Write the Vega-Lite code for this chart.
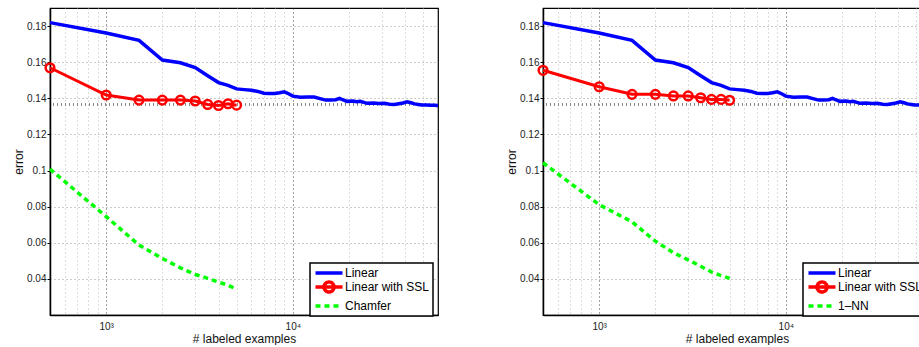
{
  "$schema": "https://vega.github.io/schema/vega-lite/v6.json",
  "padding": {"left": 11, "top": 7, "right": 0, "bottom": 0},
  "background": "white",
  "datasets": {
    "linear": [
      {"series": "Linear", "n": 500, "err": 0.1819},
      {"series": "Linear", "n": 1000, "err": 0.1762},
      {"series": "Linear", "n": 1500, "err": 0.1721},
      {"series": "Linear", "n": 2000, "err": 0.1612},
      {"series": "Linear", "n": 2500, "err": 0.1597},
      {"series": "Linear", "n": 3000, "err": 0.157},
      {"series": "Linear", "n": 3500, "err": 0.1525},
      {"series": "Linear", "n": 4000, "err": 0.1487},
      {"series": "Linear", "n": 4500, "err": 0.1472},
      {"series": "Linear", "n": 5000, "err": 0.1452},
      {"series": "Linear", "n": 5500, "err": 0.1448},
      {"series": "Linear", "n": 6000, "err": 0.1444},
      {"series": "Linear", "n": 6500, "err": 0.1438},
      {"series": "Linear", "n": 7000, "err": 0.1428},
      {"series": "Linear", "n": 7500, "err": 0.1426},
      {"series": "Linear", "n": 8000, "err": 0.1427},
      {"series": "Linear", "n": 8500, "err": 0.1431},
      {"series": "Linear", "n": 9000, "err": 0.1436},
      {"series": "Linear", "n": 9500, "err": 0.1425},
      {"series": "Linear", "n": 10000, "err": 0.1412},
      {"series": "Linear", "n": 11000, "err": 0.1406},
      {"series": "Linear", "n": 12000, "err": 0.1407},
      {"series": "Linear", "n": 13000, "err": 0.1407},
      {"series": "Linear", "n": 14000, "err": 0.1398},
      {"series": "Linear", "n": 15000, "err": 0.139},
      {"series": "Linear", "n": 16000, "err": 0.139},
      {"series": "Linear", "n": 17000, "err": 0.1392},
      {"series": "Linear", "n": 17800, "err": 0.14},
      {"series": "Linear", "n": 18500, "err": 0.1392},
      {"series": "Linear", "n": 19500, "err": 0.1383},
      {"series": "Linear", "n": 21000, "err": 0.1385},
      {"series": "Linear", "n": 22000, "err": 0.1381},
      {"series": "Linear", "n": 23000, "err": 0.1383},
      {"series": "Linear", "n": 25000, "err": 0.1372},
      {"series": "Linear", "n": 27000, "err": 0.1374},
      {"series": "Linear", "n": 29000, "err": 0.1371},
      {"series": "Linear", "n": 31000, "err": 0.1372},
      {"series": "Linear", "n": 33000, "err": 0.1367},
      {"series": "Linear", "n": 35000, "err": 0.1366},
      {"series": "Linear", "n": 37000, "err": 0.137},
      {"series": "Linear", "n": 39000, "err": 0.1374},
      {"series": "Linear", "n": 41000, "err": 0.1381},
      {"series": "Linear", "n": 43000, "err": 0.1375},
      {"series": "Linear", "n": 45000, "err": 0.1369},
      {"series": "Linear", "n": 47000, "err": 0.1366},
      {"series": "Linear", "n": 49000, "err": 0.1363},
      {"series": "Linear", "n": 52000, "err": 0.1363},
      {"series": "Linear", "n": 55000, "err": 0.1361},
      {"series": "Linear", "n": 58000, "err": 0.1361},
      {"series": "Linear", "n": 60000, "err": 0.1359}
    ],
    "left": [
      {"series": "Linear with SSL", "n": 500, "err": 0.1569},
      {"series": "Linear with SSL", "n": 1000, "err": 0.1418},
      {"series": "Linear with SSL", "n": 1500, "err": 0.139},
      {"series": "Linear with SSL", "n": 2000, "err": 0.139},
      {"series": "Linear with SSL", "n": 2500, "err": 0.139},
      {"series": "Linear with SSL", "n": 3000, "err": 0.1385},
      {"series": "Linear with SSL", "n": 3500, "err": 0.1366},
      {"series": "Linear with SSL", "n": 4000, "err": 0.136},
      {"series": "Linear with SSL", "n": 4500, "err": 0.137},
      {"series": "Linear with SSL", "n": 5000, "err": 0.1362},
      {"series": "Chamfer", "n": 500, "err": 0.1008},
      {"series": "Chamfer", "n": 1000, "err": 0.0745},
      {"series": "Chamfer", "n": 1500, "err": 0.0587},
      {"series": "Chamfer", "n": 2000, "err": 0.0513},
      {"series": "Chamfer", "n": 2500, "err": 0.0461},
      {"series": "Chamfer", "n": 3000, "err": 0.0425},
      {"series": "Chamfer", "n": 3500, "err": 0.0403},
      {"series": "Chamfer", "n": 4000, "err": 0.0382},
      {"series": "Chamfer", "n": 4500, "err": 0.0365},
      {"series": "Chamfer", "n": 5000, "err": 0.0342}
    ],
    "right": [
      {"series": "Linear with SSL", "n": 500, "err": 0.1555},
      {"series": "Linear with SSL", "n": 1000, "err": 0.1464},
      {"series": "Linear with SSL", "n": 1500, "err": 0.1422},
      {"series": "Linear with SSL", "n": 2000, "err": 0.1422},
      {"series": "Linear with SSL", "n": 2500, "err": 0.1413},
      {"series": "Linear with SSL", "n": 3000, "err": 0.1413},
      {"series": "Linear with SSL", "n": 3500, "err": 0.1403},
      {"series": "Linear with SSL", "n": 4000, "err": 0.1394},
      {"series": "Linear with SSL", "n": 4500, "err": 0.1394},
      {"series": "Linear with SSL", "n": 5000, "err": 0.1389},
      {"series": "1–NN", "n": 500, "err": 0.1043},
      {"series": "1–NN", "n": 1000, "err": 0.0811},
      {"series": "1–NN", "n": 1500, "err": 0.0716},
      {"series": "1–NN", "n": 2000, "err": 0.0609},
      {"series": "1–NN", "n": 2500, "err": 0.0545},
      {"series": "1–NN", "n": 3000, "err": 0.0505},
      {"series": "1–NN", "n": 3500, "err": 0.047},
      {"series": "1–NN", "n": 4000, "err": 0.0438},
      {"series": "1–NN", "n": 4500, "err": 0.0418},
      {"series": "1–NN", "n": 5000, "err": 0.0403}
    ],
    "ref": [{"v": 0.1366}]
  },
  "hconcat": [
    {
      "width": 388,
      "height": 307,
      "layer": [
        {
          "data": {"name": "ref"},
          "mark": {"type": "rule", "color": "#8a8a8a", "strokeWidth": 3, "strokeDash": [1, 3]},
          "encoding": {"y": {"field": "v", "type": "quantitative"}}
        },
        {
          "data": {"name": "linear"},
          "mark": {"type": "line", "strokeWidth": 3.5},
          "encoding": {
            "x": {"field": "n", "type": "quantitative", "scale": {"type": "log", "domain": [500, 60000], "nice": false},
              "axis": {"title": "# labeled examples", "values": [600, 700, 800, 900, 1000, 2000, 3000, 4000, 5000, 6000, 7000, 8000, 9000, 10000, 20000, 30000, 40000, 50000],
                "labelExpr": "datum.value == 1000 ? '10³' : (datum.value == 10000 ? '10⁴' : '')",
                "tickSize": 0, "labelPadding": 6, "titlePadding": 2, "labelOverlap": false, "labelFlush": false,
                "gridColor": {"condition": {"test": "datum.value == 1000 || datum.value == 10000", "value": "#444"}, "value": "#bbbbbb"}}},
            "y": {"field": "err", "type": "quantitative", "scale": {"domain": [0.02, 0.19], "nice": false, "zero": false},
              "axis": {"title": "error", "values": [0.04, 0.06, 0.08, 0.1, 0.12, 0.14, 0.16, 0.18], "format": "~g", "tickSize": 3, "labelPadding": 1, "gridColor": "#999999", "titleX": -32, "titleBaseline": "middle"}},
            "color": {"field": "series", "type": "nominal",
              "scale": {"domain": ["Linear", "Linear with SSL", "Chamfer"], "range": ["#0000ff", "#ff0000", "#00ff00"]},
              "legend": {"encode": {"symbols": {"update": {
                "shape": {"signal": "datum.value === 'Linear with SSL' ? 'M-2.7,0H2.7M1,0A1,1 0 1,1 -1,0A1,1 0 1,1 1,0' : 'M-2.7,0H2.7'"},
                "strokeDash": {"signal": "datum.value === 'Chamfer' ? [5, 4] : [1, 0]"},
                "fill": {"value": "transparent"}}}}}}
          }
        },
        {
          "data": {"name": "left"},
          "transform": [{"filter": "datum.series === 'Linear with SSL'"}],
          "mark": {"type": "line", "strokeWidth": 3},
          "encoding": {
            "x": {"field": "n", "type": "quantitative"},
            "y": {"field": "err", "type": "quantitative"},
            "color": {"field": "series", "type": "nominal"}
          }
        },
        {
          "data": {"name": "left"},
          "transform": [{"filter": "datum.series === 'Linear with SSL'"}],
          "mark": {"type": "point", "filled": false, "size": 75, "strokeWidth": 2.5, "color": "#ff0000", "opacity": 1},
          "encoding": {
            "x": {"field": "n", "type": "quantitative"},
            "y": {"field": "err", "type": "quantitative"}
          }
        },
        {
          "data": {"name": "left"},
          "transform": [{"filter": "datum.series === 'Chamfer'"}],
          "mark": {"type": "line", "strokeWidth": 3.5, "strokeDash": [5, 4]},
          "encoding": {
            "x": {"field": "n", "type": "quantitative"},
            "y": {"field": "err", "type": "quantitative"},
            "color": {"field": "series", "type": "nominal"}
          }
        }
      ]
    },
    {
      "width": 388,
      "height": 307,
      "layer": [
        {
          "data": {"name": "ref"},
          "mark": {"type": "rule", "color": "#8a8a8a", "strokeWidth": 3, "strokeDash": [1, 3]},
          "encoding": {"y": {"field": "v", "type": "quantitative"}}
        },
        {
          "data": {"name": "linear"},
          "mark": {"type": "line", "strokeWidth": 3.5},
          "encoding": {
            "x": {"field": "n", "type": "quantitative", "scale": {"type": "log", "domain": [500, 60000], "nice": false},
              "axis": {"title": "# labeled examples", "values": [600, 700, 800, 900, 1000, 2000, 3000, 4000, 5000, 6000, 7000, 8000, 9000, 10000, 20000, 30000, 40000, 50000],
                "labelExpr": "datum.value == 1000 ? '10³' : (datum.value == 10000 ? '10⁴' : '')",
                "tickSize": 0, "labelPadding": 6, "titlePadding": 2, "labelOverlap": false, "labelFlush": false,
                "gridColor": {"condition": {"test": "datum.value == 1000 || datum.value == 10000", "value": "#444"}, "value": "#bbbbbb"}}},
            "y": {"field": "err", "type": "quantitative", "scale": {"domain": [0.02, 0.19], "nice": false, "zero": false},
              "axis": {"title": "error", "values": [0.04, 0.06, 0.08, 0.1, 0.12, 0.14, 0.16, 0.18], "format": "~g", "tickSize": 3, "labelPadding": 1, "gridColor": "#999999", "titleX": -32, "titleBaseline": "middle"}},
            "color": {"field": "series", "type": "nominal",
              "scale": {"domain": ["Linear", "Linear with SSL", "1–NN"], "range": ["#0000ff", "#ff0000", "#00ff00"]},
              "legend": {"encode": {"symbols": {"update": {
                "shape": {"signal": "datum.value === 'Linear with SSL' ? 'M-2.7,0H2.7M1,0A1,1 0 1,1 -1,0A1,1 0 1,1 1,0' : 'M-2.7,0H2.7'"},
                "strokeDash": {"signal": "datum.value === '1–NN' ? [5, 4] : [1, 0]"},
                "fill": {"value": "transparent"}}}}}}
          }
        },
        {
          "data": {"name": "right"},
          "transform": [{"filter": "datum.series === 'Linear with SSL'"}],
          "mark": {"type": "line", "strokeWidth": 3},
          "encoding": {
            "x": {"field": "n", "type": "quantitative"},
            "y": {"field": "err", "type": "quantitative"},
            "color": {"field": "series", "type": "nominal"}
          }
        },
        {
          "data": {"name": "right"},
          "transform": [{"filter": "datum.series === 'Linear with SSL'"}],
          "mark": {"type": "point", "filled": false, "size": 75, "strokeWidth": 2.5, "color": "#ff0000", "opacity": 1},
          "encoding": {
            "x": {"field": "n", "type": "quantitative"},
            "y": {"field": "err", "type": "quantitative"}
          }
        },
        {
          "data": {"name": "right"},
          "transform": [{"filter": "datum.series === '1–NN'"}],
          "mark": {"type": "line", "strokeWidth": 3.5, "strokeDash": [5, 4]},
          "encoding": {
            "x": {"field": "n", "type": "quantitative"},
            "y": {"field": "err", "type": "quantitative"},
            "color": {"field": "series", "type": "nominal"}
          }
        }
      ]
    }
  ],
  "spacing": 105,
  "bounds": "flush",
  "resolve": {"scale": {"color": "independent", "x": "independent", "y": "independent"}, "legend": {"color": "independent"}},
  "config": {
    "font": "Liberation Sans",
    "view": {"stroke": "black", "strokeWidth": 1.2},
    "axis": {"labelFont": "Liberation Sans", "labelFontSize": 10, "labelColor": "#222", "titleFont": "Liberation Sans", "titleFontSize": 12, "titleFontWeight": "normal", "titleColor": "#111", "domainColor": "black", "domainWidth": 1.5, "tickColor": "black", "gridDash": [1, 3], "gridWidth": 1, "gridOpacity": 1},
    "legend": {"orient": "none", "legendX": 260, "legendY": 255, "title": null, "strokeColor": "black", "strokeWidth": 1.5, "fillColor": "white", "padding": 3, "symbolType": "stroke", "symbolSize": 100, "symbolStrokeWidth": 3.5, "labelFont": "Liberation Sans", "labelFontSize": 12, "labelColor": "black", "labelOffset": 9, "rowPadding": -6, "symbolOffset": 9, "labelLimit": 200}
  }
}
